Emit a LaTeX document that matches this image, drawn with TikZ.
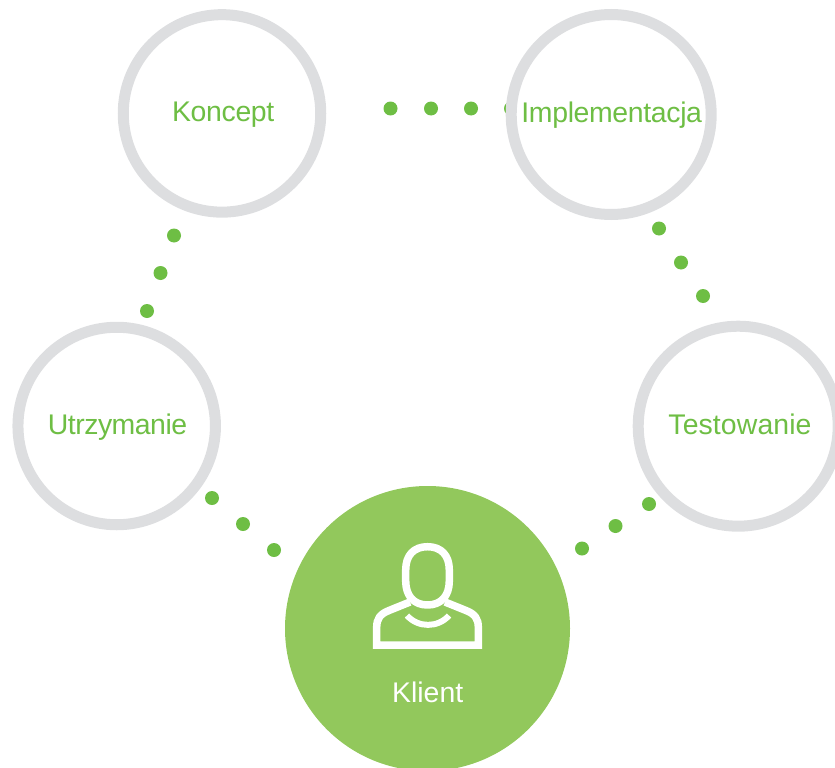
\documentclass[tikz,border=0pt]{standalone}
\usepackage{fontspec}
\setmainfont{Liberation Sans}
\definecolor{ringgray}{HTML}{DDDEE0}
\definecolor{dotgreen}{HTML}{6EBE44}
\definecolor{clientgreen}{HTML}{92C85C}
\tikzset{
  ring/.style={circle,draw=ringgray,line width=11pt,fill=white,minimum size=197.5pt,inner sep=0pt},
  bigring/.style={ring,minimum size=200pt},
  lbl/.style={anchor=base,inner sep=0pt,text=dotgreen,font=\fontsize{28.4}{32}\selectfont},
  dotmark/.style={circle,fill=dotgreen,minimum size=14pt,inner sep=0pt},
  iconline/.style={draw=white,line width=7.5pt,line join=round},
}
\begin{document}
\begin{tikzpicture}[x=1pt,y=-1pt]
\useasboundingbox (0,0) rectangle (835,768);
\clip (0,0) rectangle (835,768);
% dots
\node[dotmark] (a1) at (174,235.5) {};
\node[dotmark] (a2) at (160.5,273) {};
\node[dotmark] (a3) at (147,311) {};
\node[dotmark] (b1) at (390.5,108.5) {};
\node[dotmark] (b2) at (431,108.5) {};
\node[dotmark] (b3) at (471,108.5) {};
\node[dotmark] (b4) at (511,108.5) {};
\node[dotmark] (c1) at (659,228.5) {};
\node[dotmark] (c2) at (681,262.5) {};
\node[dotmark] (c3) at (703,296) {};
\node[dotmark] (d1) at (649,504) {};
\node[dotmark] (d2) at (615.5,526) {};
\node[dotmark] (d3) at (582,548.5) {};
\node[dotmark] (e1) at (212,498) {};
\node[dotmark] (e2) at (243,524) {};
\node[dotmark] (e3) at (274,550) {};
% rings
\node[ring] (koncept) at (222,113.4) {};
\node[bigring] (impl) at (611.2,114.5) {};
\node[bigring] (test) at (738.2,426.2) {};
\node[ring] (utrz) at (116.7,426) {};
% ring labels
\node[lbl] (tkoncept) at (223.2,121.7) {\addfontfeature{LetterSpace=-1.2}Koncept};
\node[lbl] (timpl) at (611.7,122.3) {\addfontfeature{LetterSpace=-1.2}Implementacja};
\node[lbl] (ttest) at (740,434) {\addfontfeature{LetterSpace=0.4}Testowanie};
\node[lbl] (tutrz) at (117.5,434) {\addfontfeature{LetterSpace=-1.7}Utrzymanie};
% client
\node[circle,fill=clientgreen,minimum size=285pt,inner sep=0pt] (klient) at (427.5,628.5) {};
\node[lbl,text=white] (klabel) at (427.7,702) {Klient};
% person icon
\draw[iconline] (405.7,570) .. controls (405.7,555) and (414,546.7) .. (427.5,546.7)
  .. controls (441,546.7) and (449.3,555) .. (449.3,570)
  -- (449.3,581) .. controls (449.3,596) and (441,605) .. (427.5,605)
  .. controls (414,605) and (405.7,596) .. (405.7,581) -- cycle;
\draw[iconline,line join=miter] (410,602) -- (389,610.5) .. controls (380,614) and (376.7,619) .. (376.7,627)
  -- (376.7,645) -- (478.3,645) -- (478.3,627) .. controls (478.3,619) and (475,614) .. (466,610.5) -- (445,602);
\draw[draw=white,line width=6pt] (407,615.5) .. controls (418,628) and (438,628) .. (449,615.5);
\end{tikzpicture}
\end{document}
